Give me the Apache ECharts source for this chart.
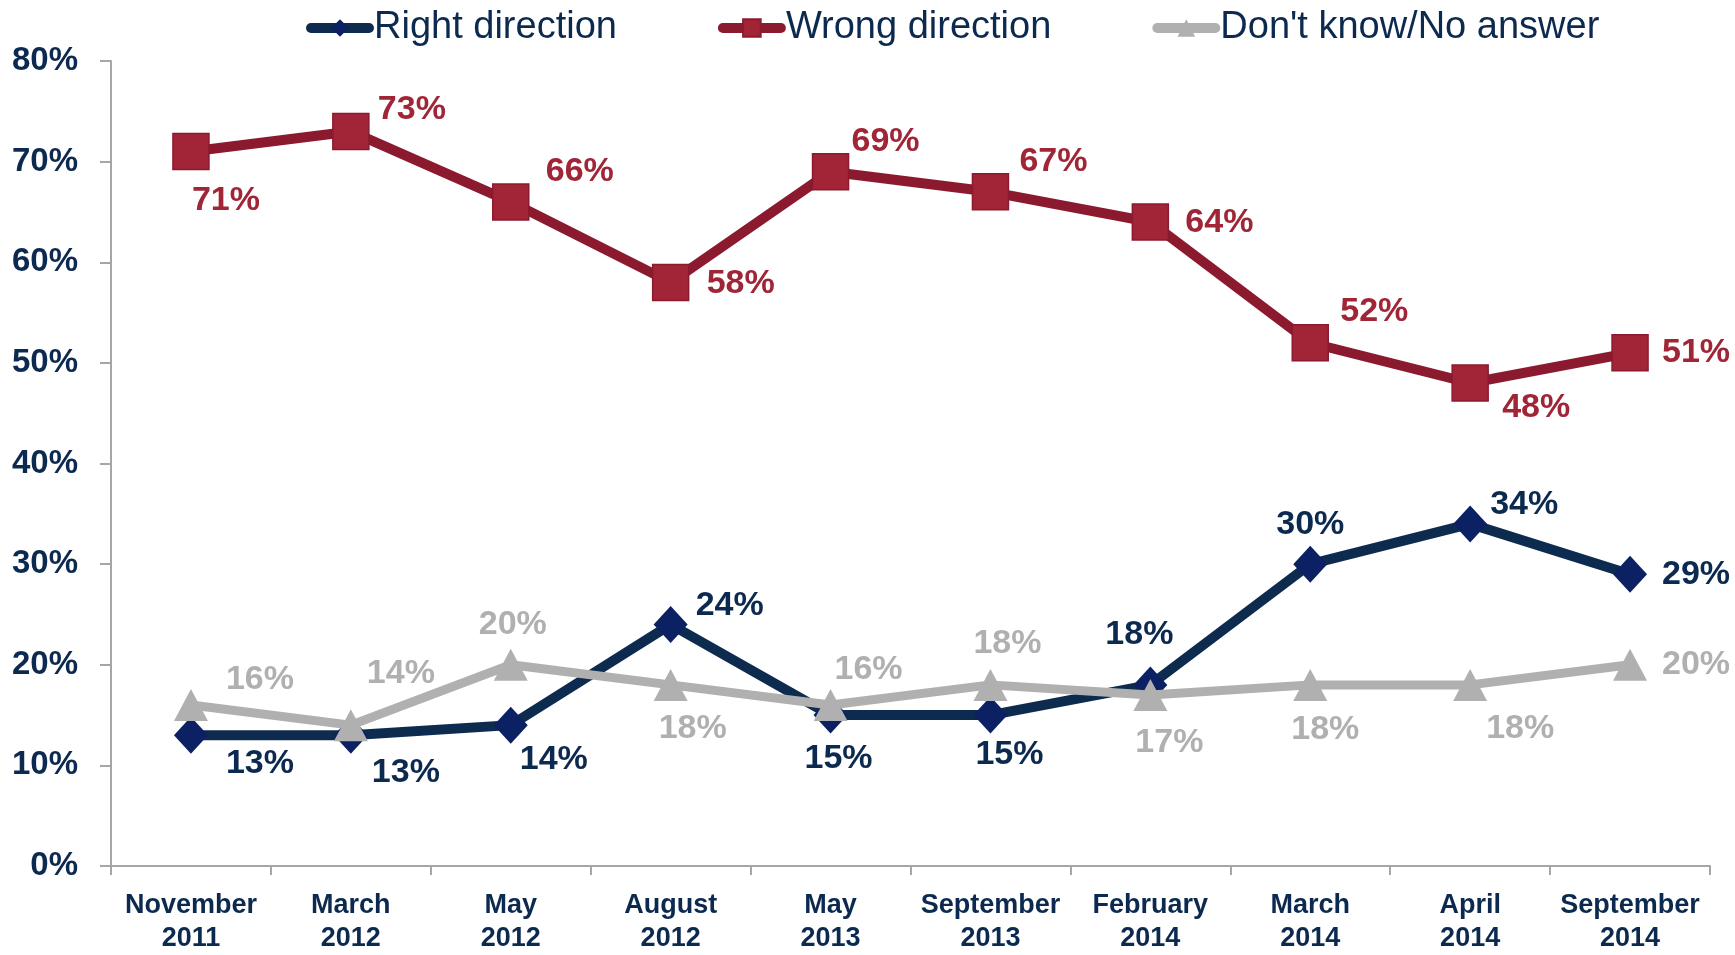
<!DOCTYPE html>
<html><head><meta charset="utf-8">
<script src="https://cdn.jsdelivr.net/npm/echarts@6/dist/echarts.min.js"></script>
<style>html,body{margin:0;padding:0;background:#fff}#c{width:1735px;height:955px}</style>
</head><body><div id="c"></div>
<script>
const categories = ["November\n2011","March\n2012","May\n2012","August\n2012","May\n2013","September\n2013","February\n2014","March\n2014","April\n2014","September\n2014"];
const rightDirection = [13,13,14,24,15,15,18,30,34,29];
const wrongDirection = [71,73,66,58,69,67,64,52,48,51];
const dontKnow = [16,14,20,18,16,18,17,18,18,20];
const yTicks = [0,10,20,30,40,50,60,70,80];

// label placement (styling only): pixel offsets from each marker
const rightOffsets = [[69,28],[55,37],[43,34],[59,-19],[8,44],[19,40],[-11,-50],[0,-40],[54,-19],[66,0]];
const wrongOffsets = [[35,49],[61,-22],[69,-30],[70,1],[55,-30],[63,-30],[69,1],[64,-31],[66,25],[66,0]];
const dkOffsets = [[69,-25],[50,-52],[2,-40],[22,44],[38,-35],[17,-41],[19,48],[15,45],[50,44],[66,0]];

const FONT = "Liberation Sans";
const NAVY = "#0c2a50";

function items(vals, offs){
  return vals.map((v,i)=>({value:v, label:{offset:offs[i]}}));
}
function lbl(color){
  return {show:true, position:'inside', align:'center', verticalAlign:'middle',
    formatter:p=>p.value+'%', color:color, fontFamily:FONT, fontWeight:'bold', fontSize:34};
}

const chart = echarts.init(document.getElementById('c'));
chart.setOption({
  animation:false,
  legend:{
    top:4, left:301, itemGap:101, itemWidth:58, itemHeight:22,
    lineStyle:{width:10, cap:'round'},
    textStyle:{fontFamily:FONT, fontSize:38, color:NAVY},
    data:['Right direction','Wrong direction',"Don't know/No answer"]
  },
  grid:{left:111, right:25, top:61, bottom:87},
  xAxis:{
    type:'category', data:categories, boundaryGap:true,
    axisLine:{lineStyle:{color:'#a6a6a6', width:2}},
    axisTick:{show:true, length:9, lineStyle:{color:'#a6a6a6', width:2}},
    axisLabel:{interval:0, margin:23, color:NAVY, fontFamily:FONT, fontWeight:'bold', fontSize:27, lineHeight:33}
  },
  yAxis:{
    type:'value', min:0, max:80, interval:10,
    splitLine:{show:false},
    axisLine:{show:true, lineStyle:{color:'#a6a6a6', width:2}},
    axisTick:{show:true, length:11, lineStyle:{color:'#a6a6a6', width:2}},
    axisLabel:{margin:33, color:NAVY, fontFamily:FONT, fontWeight:'bold', fontSize:33, formatter:v=>v+'%'}
  },
  series:[
    {name:'Right direction', type:'line', data:items(rightDirection,rightOffsets),
     lineStyle:{color:'#0d2a4f', width:10}, itemStyle:{color:'#0b2163'},
     symbol:'diamond', symbolSize:[34,37], label:lbl('#0c2a50'), z:2},
    {name:'Wrong direction', type:'line', data:items(wrongDirection,wrongOffsets),
     lineStyle:{color:'#8c1a2f', width:10}, itemStyle:{color:'#a22537', borderColor:'#8c1a2f', borderWidth:1.5},
     symbol:'rect', symbolSize:36, label:lbl('#a02536'), z:3},
    {name:"Don't know/No answer", type:'line', data:items(dontKnow,dkOffsets),
     lineStyle:{color:'#b0b0b0', width:9}, itemStyle:{color:'#b0b0b0'},
     symbol:'triangle', symbolSize:[34,32], label:lbl('#b0b0b0'), z:4}
  ]
});
</script>
</body></html>
